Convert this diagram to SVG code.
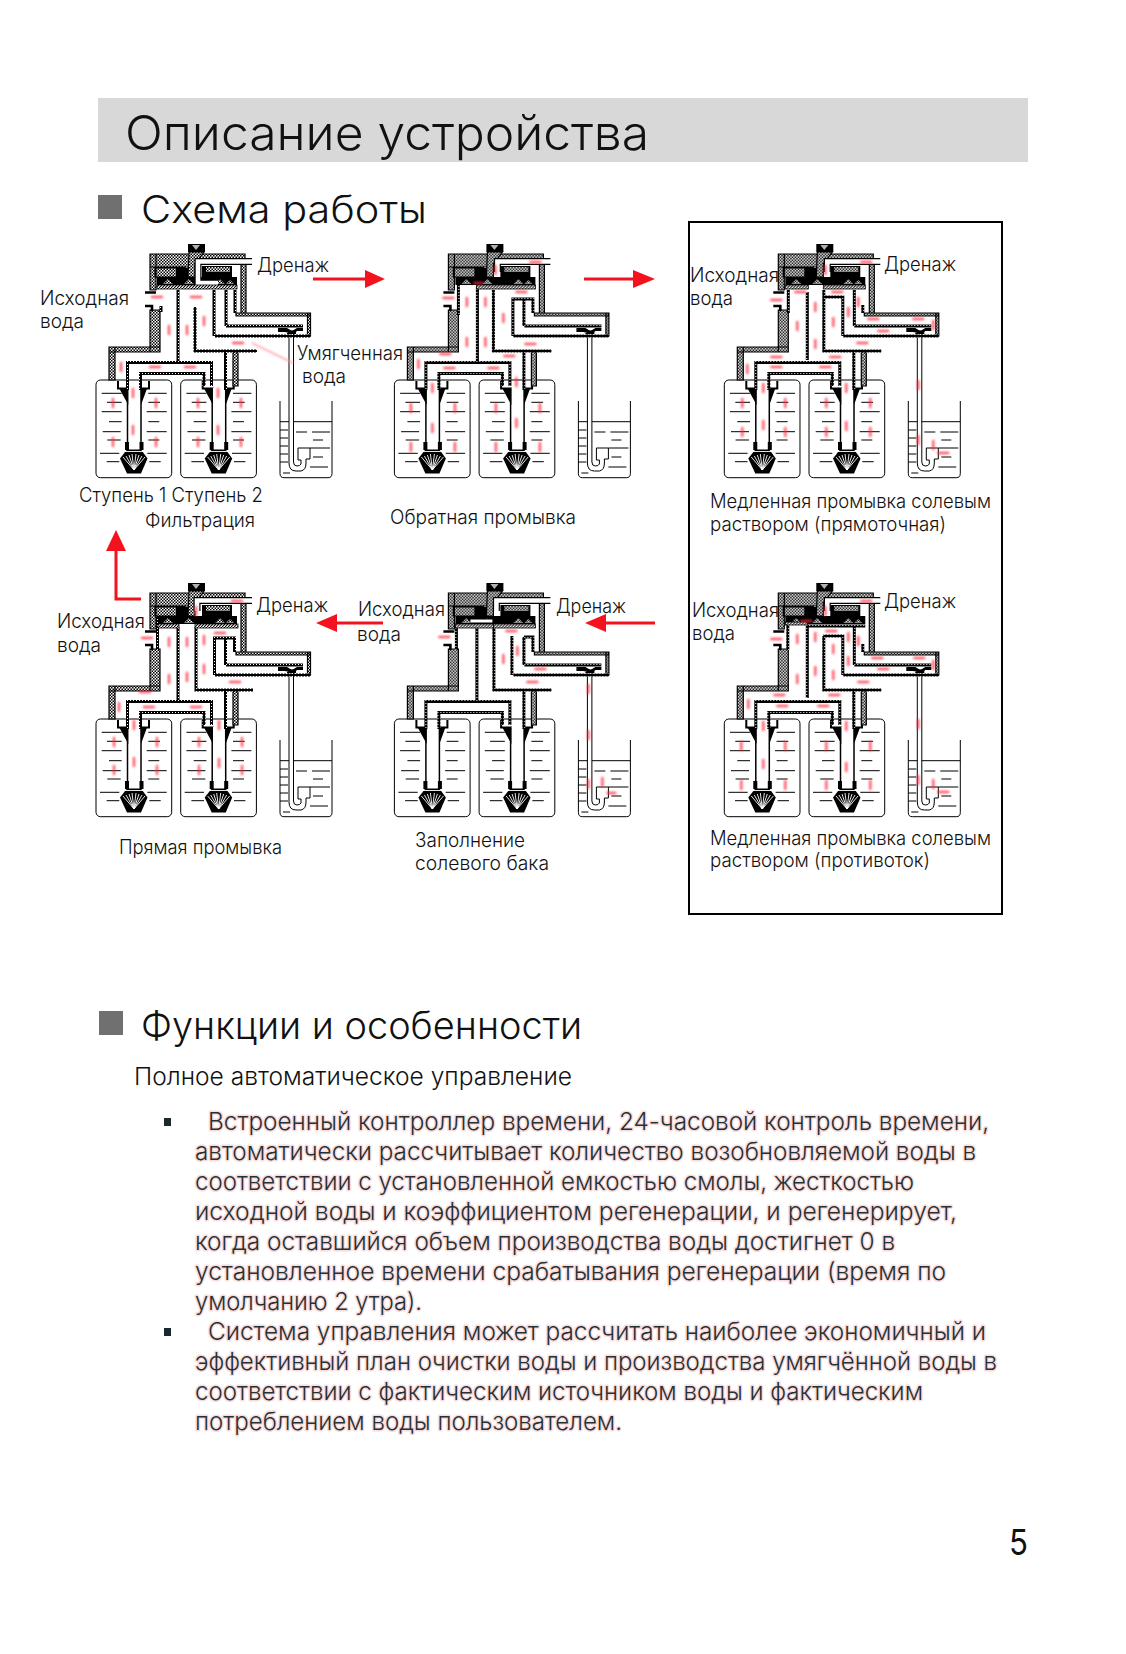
<svg xmlns="http://www.w3.org/2000/svg" width="1126" height="1654" viewBox="0 0 1126 1654">
<style>
text{font-family:"Inter","Noto Sans",sans-serif;font-weight:300;fill:#111}
.h1{font-size:48px;transform:translate(-2px,1px)}.h2{font-size:38px;transform:translate(-1px,1px)}.sub{font-size:24px}
.b{font-size:24px;fill:#1f3336;stroke:#fbdcdc;stroke-width:3px;paint-order:stroke;stroke-linejoin:round}
.l{font-size:19.500px;transform:translate(-1px,1px)}
.wall{fill:none;stroke:url(#dots);stroke-width:3}
.thin{fill:none;stroke:#000;stroke-width:1}
.dth{fill:url(#dith);stroke:#000;stroke-width:1.200}
.hat{fill:url(#hatch);stroke:#000;stroke-width:.8}
.chan{fill:none;stroke:#000;stroke-width:7}
.chw{fill:none;stroke:#fff;stroke-width:4.600}
.fl{filter:url(#soft)}
.fl path{fill:none;stroke:#ff2a3c;stroke-width:2.400;stroke-linecap:round;opacity:.8}
.fl path.ln{stroke:#ff8d95;stroke-width:1.400}
.arr{fill:none;stroke:#f4121f;stroke-width:3}
.ah{fill:#f4121f}
</style>
<defs>
<pattern id="dith" patternUnits="userSpaceOnUse" width="3" height="3"><rect width="3" height="3" fill="#fff"/><rect width="1.500" height="1.500" fill="#000"/><rect x="1.500" y="1.500" width="1.500" height="1.500" fill="#000"/></pattern>
<pattern id="dots" patternUnits="userSpaceOnUse" width="3" height="3"><rect width="3" height="3" fill="#000"/><rect x="1" y="1" width="1" height="1" fill="#fff"/></pattern>
<pattern id="hatch" patternUnits="userSpaceOnUse" width="3" height="3"><rect width="3" height="3" fill="#fff"/><path d="M0 3L3 0" stroke="#000" stroke-width="1.100"/></pattern>
<filter id="soft" filterUnits="userSpaceOnUse" x="-800" y="-500" width="2200" height="2400"><feGaussianBlur stdDeviation="1.300"/></filter>
<g id="tank">
<rect x="96" y="380" width="75.700" height="97.700" rx="4.500" fill="#fff" stroke="#000" stroke-width="1"/>
<path class="thin" d="M101.700 393.300h20M148.300 393.300h18.400M107 402.300h14.700M148.300 402.300h11.700M101.700 411.700h20M146.700 411.700h20M109 421.700h12.700M148.300 421.700h11M102.700 431.700h18M146.700 431.700h20M107.300 440h13.400M148.300 440h11M100 453.300h19.300M147.300 453.300h19.400M106.700 461.700h12.600M149.300 461.700h11.400"/>
<path d="M118 381V388.500H128V390H141V388.500H149V381" fill="#fff" stroke="#000" stroke-width="2"/>
<rect x="128" y="388" width="13" height="60" fill="#fff"/>
<path d="M119.300 388.500H128.300V405zM141 405V388.500H147z" fill="#000"/>
<path class="thin" style="stroke-width:1.500" d="M127.500 388V444M141 388V444"/>
<path d="M125 442h4v8h-4zM139.500 442h4v8h-4z" fill="#000"/>
<path d="M127 449.500H141L147.500 458.500 141 473.500H127L120 458.500z" fill="#000"/>
<path d="M134 470L123 457M134 470L126 456M134 470L129 455M134 470L132 454M134 470L136 454M134 470L139 455M134 470L142 456M134 470L145 457M123 451.500H145" stroke="#fff" stroke-width=".9" fill="none"/>
</g>
<g id="base">
<use href="#tank"/><use href="#tank" x="84.700"/>
<path d="M280 401V473.500Q280 477.700 284 477.700H328Q332 477.700 332 473.500V401" fill="#fff" stroke="#000" stroke-width="1"/>
<path class="thin" d="M280 421.700H332M280 430h8M280 438h8M280 446h8M280 454h8M280 462h8M296 432h11M312 432h18M313 440h10M310 448h20M313 457h10M310 467h18M283 473h7"/>
<path d="M289 331V463Q289 471 296 471H301Q306 470 306 463V459H310V448H298V460H301V464Q300 466 297 466Q293.500 466 293.500 462V331z" fill="#fff" stroke="#000" stroke-width="1"/>
<path class="dth" d="M150 310h10v42h-10zM109 347h51v5h-51zM109 347h6v33h-6zM233 352h5v34h-5z"/>
<path d="M145 292.500H156M145 306H152V311" fill="none" stroke="#000" stroke-width="2.600"/>
<path class="wall" d="M127.500 390V362.500H211.500V386M140.500 390V373.500H204V386M225.500 352V390"/>
<path class="dth" d="M150 254h42v13h-42zM190 254h55v8h-55zM150 254h6v36h-6zM241 262h5v51h-5zM236 313h74v3h-74zM307.500 313h3v23h-3zM155 268h30v9h-30z"/>
<path class="wall" d="M215 336H310.500M226 326H303"/>
<path d="M278 328h9l5 3 5-3h6v3h-6l-3 3h-5v-1l-4-1h-7zM287 331h9v3h-9z" fill="#000"/>
<rect x="188" y="244" width="17" height="8" fill="#000"/>
<path d="M192 245l4 5 4-5z" fill="#fff" opacity=".7"/>
<path d="M189 252h15l-9 12v13h-7z" class="dth"/>
<path d="M157 277h80v8h-80zM176 268h12v9h-12zM202 266h30v11h-30z" fill="#000"/>
<path d="M206 267h24v5h-24zM163 284l5-5 5 5zM184 284l5-5 5 5zM215 284l5-5 5 5zM226 284l4-4 4 4z" fill="url(#dith)"/>
</g>
</defs>
<rect width="1126" height="1654" fill="#fff"/>
<g id="header">
<rect x="98" y="98" width="930" height="64" fill="#d8d8d8"/>
<text class="h1" x="127" y="149" textLength="524" lengthAdjust="spacingAndGlyphs">Описание устройства</text>
<rect x="98" y="195" width="24" height="24" fill="#707070"/>
<text class="h2" x="142" y="222" textLength="286" lengthAdjust="spacingAndGlyphs">Схема работы</text>
</g>
<rect id="frame" x="689" y="222" width="313" height="692" fill="none" stroke="#000" stroke-width="2"/>

<g id="d1-filtration">
<use href="#base"/>
<path class="wall" d="M178 290V361M195 307V351H257M214 290V336M226 290V326M235 290V313M161 306V312"/>
<path class="chan" d="M252 261.500H198V283H218"/><path class="chw" d="M255 261.500H198V283H218"/>
<rect class="hat" x="157" y="285" width="80" height="4"/>
<g class="fl"><path d="M152 297h10M191 297h10M169 326v8M187 326v8M204 317v8M233 343h10M121 363v8M150 367h10M185 367h10M133 389v8M133 426v8M218 389v8M218 426v8M113 399v8M156 399v8M198 399v8M241 399v8M113 438v8M156 438v8M198 438v8M241 438v8"/><path class="ln" d="M252 343L293 363"/></g>
<text class="l" x="258" y="271" textLength="72" lengthAdjust="spacingAndGlyphs">Дренаж</text>
<text class="l" x="41" y="304" textLength="89" lengthAdjust="spacingAndGlyphs">Исходная</text>
<text class="l" x="41" y="327" textLength="44" lengthAdjust="spacingAndGlyphs">вода</text>
<text class="l" x="298" y="359" textLength="106" lengthAdjust="spacingAndGlyphs">Умягченная</text>
<text class="l" x="303" y="382" textLength="44" lengthAdjust="spacingAndGlyphs">вода</text>
<text class="l" x="80" y="501" textLength="184" lengthAdjust="spacingAndGlyphs">Ступень 1 Ступень 2</text>
<text class="l" x="146" y="526" textLength="110" lengthAdjust="spacingAndGlyphs">Фильтрация</text>
</g>

<g id="d2-backwash">
<g transform="translate(298.400 0)">
<use href="#base"/>
<path class="wall" d="M160 285V315M179 287V361M195 290V351H253M214.500 336V299H234.500V313M225.500 299V326"/>
<path class="chan" d="M252 261.500H199V272"/><path class="chw" d="M255 261.500H199V272"/>
<rect class="hat" x="178" y="285" width="59" height="4"/>
<g class="fl"><path d="M145 298h10M168.500 298v8M168.500 338v8M187 298v8M187 338v8M205 314v8M218 292h10M227 344h10M206 356h10M142 354h10M120 360v8M146 368h10M190 368h10M134 384v8M134 424v8M218 378v8M218 419v8M232 262h10M197 266v8M176 283h8M112.500 404v8M156.500 404v8M197.500 404v8M241.500 404v8M112.500 443v8M156.500 443v8M197.500 443v8M241.500 443v8"/></g>
</g>
<text class="l" x="391" y="523" textLength="186" lengthAdjust="spacingAndGlyphs">Обратная промывка</text>
</g>

<g id="d3-brine-down">
<g transform="translate(628.300 0)">
<use href="#base"/>
<path class="wall" d="M160 290V313M179 292V360M195.500 290V351H253M195 297H214.500V336M226 290V326M234.500 305V313"/>
<path class="chan" d="M252 261.500H199V272"/><path class="chw" d="M255 261.500H199V272"/>
<rect class="hat" x="157" y="285" width="23" height="4"/><rect class="hat" x="195" y="285" width="42" height="4"/>
<g class="fl"><path d="M143 300h10M167 292h10M187 303v8M169 322v8M187 340v8M205 318v8M220 308v8M229 343h10M204 292h10M240 319h10M250 331h10M285 319h10M305 321v8M230 298v8M290 381v8M290 436v8M233 262h10M197 266v8M143 357h10M202 357h10M143 367h10M192 367h10M119 365v8M135 384v8M135 421v8M218 384v8M218 422v8M305 441v8M310 453h10M114 399v8M157 399v8M198 399v8M242 399v8M114 428v8M157 428v8M198 428v8M242 428v8"/></g>
</g>
<text class="l" x="885" y="270" textLength="72" lengthAdjust="spacingAndGlyphs">Дренаж</text>
<text class="l" x="691" y="281" textLength="89" lengthAdjust="spacingAndGlyphs">Исходная</text>
<text class="l" x="691" y="304" textLength="43" lengthAdjust="spacingAndGlyphs">вода</text>
<text class="l" x="711" y="507" textLength="281" lengthAdjust="spacingAndGlyphs">Медленная промывка солевым</text>
<text class="l" x="711" y="530" textLength="236" lengthAdjust="spacingAndGlyphs">раствором (прямоточная)</text>
</g>

<g id="d4-rinse">
<g transform="translate(0 339)">
<use href="#base"/>
<path class="wall" d="M157.500 278V311M178 288V361M196 288V351H253M214.500 336V299H234.500V313M225.500 299V326"/>
<path class="chan" d="M252 261.500H197V272"/><path class="chw" d="M255 261.500H197V272"/>
<rect class="hat" x="158" y="285" width="21" height="4"/><rect class="hat" x="195" y="285" width="43" height="4"/>
<g class="fl"><path d="M142 299h10M169 299v8M169 336v8M187 299v8M187 334v8M204 297v8M204 326v8M215 294h10M230 343h10M140 353h10M119 364v8M144 368h10M191 368h10M134 382v8M134 419v8M219 382v8M219 420v8M232 262h10M196 268v8M114 399v8M157 399v8M199 399v8M242 399v8M114 427v8M157 427v8M199 427v8M242 427v8"/></g>
</g>
<text class="l" x="257" y="611" textLength="72" lengthAdjust="spacingAndGlyphs">Дренаж</text>
<text class="l" x="58" y="627" textLength="88" lengthAdjust="spacingAndGlyphs">Исходная</text>
<text class="l" x="58" y="651" textLength="44" lengthAdjust="spacingAndGlyphs">вода</text>
<text class="l" x="120" y="853" textLength="163" lengthAdjust="spacingAndGlyphs">Прямая промывка</text>
</g>

<g id="d5-brine-fill">
<g transform="translate(298.400 339)">
<use href="#base"/>
<path class="wall" d="M158 288V311M178.500 288V361M195.500 288V351H253M213.500 297V336M225.500 298H234.500V313M225.500 298V326"/>
<path class="chan" d="M252 261.500H198V272"/><path class="chw" d="M255 261.500H198V272"/>
<path class="chan" d="M172 282H194" style="stroke-width:5"/><path class="chw" d="M172 282H194" style="stroke-width:3"/>
<rect class="hat" x="157" y="285" width="38" height="4"/><rect class="hat" x="195" y="285" width="42" height="4"/>
<g class="fl"><path d="M141 298h10M205 316v8M219 308v8M208 292h10M229 343h10M237 330h10M290 346v8M290 392v8M290 441v8M304 439v8M309 454h8"/></g>
</g>
<text class="l" x="557" y="612" textLength="70" lengthAdjust="spacingAndGlyphs">Дренаж</text>
<text class="l" x="359" y="615" textLength="87" lengthAdjust="spacingAndGlyphs">Исходная</text>
<text class="l" x="358" y="640" textLength="44" lengthAdjust="spacingAndGlyphs">вода</text>
<text class="l" x="416" y="846" textLength="110" lengthAdjust="spacingAndGlyphs">Заполнение</text>
<text class="l" x="416" y="869" textLength="134" lengthAdjust="spacingAndGlyphs">солевого бака</text>
</g>

<g id="d6-brine-up">
<g transform="translate(628.300 339)">
<use href="#base"/>
<path class="wall" d="M159.500 281V311M179 286V359M179 287H237M195.500 297V351H253M195 297H214.500V336M226 288V326M234.500 305V313"/>
<path class="chan" d="M252 261.500H199V272"/><path class="chw" d="M255 261.500H199V272"/>
<rect class="hat" x="157" y="283" width="22" height="3"/>
<g class="fl"><path d="M143 300h10M173 282h10M169 296v8M169 336v8M187 294v8M187 328v8M205 306v8M205 332v8M198 292h10M220 294v8M220 318v8M230 298v8M244 319h10M250 330h10M230 343h10M286 319h10M305 322v8M146 356h10M201 356h10M149 367h10M190 367h10M120 361v8M135 383v8M135 421v8M218 383v8M218 424v8M290 381v8M290 437v8M305 441v8M310 453h10M233 262h10M197 268v8M113 403v8M157 403v8M198 403v8M242 403v8M113 442v8M157 442v8M198 442v8M242 442v8"/></g>
</g>
<text class="l" x="885" y="607" textLength="72" lengthAdjust="spacingAndGlyphs">Дренаж</text>
<text class="l" x="693" y="616" textLength="87" lengthAdjust="spacingAndGlyphs">Исходная</text>
<text class="l" x="693" y="639" textLength="43" lengthAdjust="spacingAndGlyphs">вода</text>
<text class="l" x="711" y="844" textLength="281" lengthAdjust="spacingAndGlyphs">Медленная промывка солевым</text>
<text class="l" x="711" y="866" textLength="220" lengthAdjust="spacingAndGlyphs">раствором (противоток)</text>
</g>

<g id="connectors">
<path class="arr" d="M313 279H368"/><path class="ah" d="M385 279L365 270V288z"/>
<path class="arr" d="M584 279H637"/><path class="ah" d="M655 279L633 270V288z"/>
<path class="arr" d="M141 599H116V548"/><path class="ah" d="M116 530L106 551H126z"/>
<path class="arr" d="M383 623H332"/><path class="ah" d="M316 623L337 614V632z"/>
<path class="arr" d="M655 623H602"/><path class="ah" d="M585 623L606 614V632z"/>
</g>

<g id="features">
<rect x="99" y="1011" width="24" height="24" fill="#707070"/>
<text class="h2" x="142" y="1038" textLength="441" lengthAdjust="spacingAndGlyphs">Функции и особенности</text>
<text class="sub" x="134" y="1085" textLength="438" lengthAdjust="spacingAndGlyphs">Полное автоматическое управление</text>
<rect x="164" y="1118" width="7" height="8" fill="#1a2a2c"/>
<rect x="164" y="1328" width="7" height="8" fill="#1a2a2c"/>
<text class="b" x="208" y="1130" textLength="781" lengthAdjust="spacingAndGlyphs">Встроенный контроллер времени, 24-часовой контроль времени,</text>
<text class="b" x="195" y="1160" textLength="781" lengthAdjust="spacingAndGlyphs">автоматически рассчитывает количество возобновляемой воды в</text>
<text class="b" x="195" y="1190" textLength="719" lengthAdjust="spacingAndGlyphs">соответствии с установленной емкостью смолы, жесткостью</text>
<text class="b" x="195" y="1220" textLength="762" lengthAdjust="spacingAndGlyphs">исходной воды и коэффициентом регенерации, и регенерирует,</text>
<text class="b" x="195" y="1250" textLength="700" lengthAdjust="spacingAndGlyphs">когда оставшийся объем производства воды достигнет 0 в</text>
<text class="b" x="195" y="1280" textLength="751" lengthAdjust="spacingAndGlyphs">установленное времени срабатывания регенерации (время по</text>
<text class="b" x="195" y="1310" textLength="227" lengthAdjust="spacingAndGlyphs">умолчанию 2 утра).</text>
<text class="b" x="208" y="1340" textLength="778" lengthAdjust="spacingAndGlyphs">Система управления может рассчитать наиболее экономичный и</text>
<text class="b" x="195" y="1370" textLength="802" lengthAdjust="spacingAndGlyphs">эффективный план очистки воды и производства умягчённой воды в</text>
<text class="b" x="195" y="1400" textLength="728" lengthAdjust="spacingAndGlyphs">соответствии с фактическим источником воды и фактическим</text>
<text class="b" x="195" y="1430" textLength="427" lengthAdjust="spacingAndGlyphs">потреблением воды пользователем.</text>
<text x="1009" y="1555" style="font-size:36px;font-weight:400" textLength="19" lengthAdjust="spacingAndGlyphs">5</text>
</g>
</svg>
